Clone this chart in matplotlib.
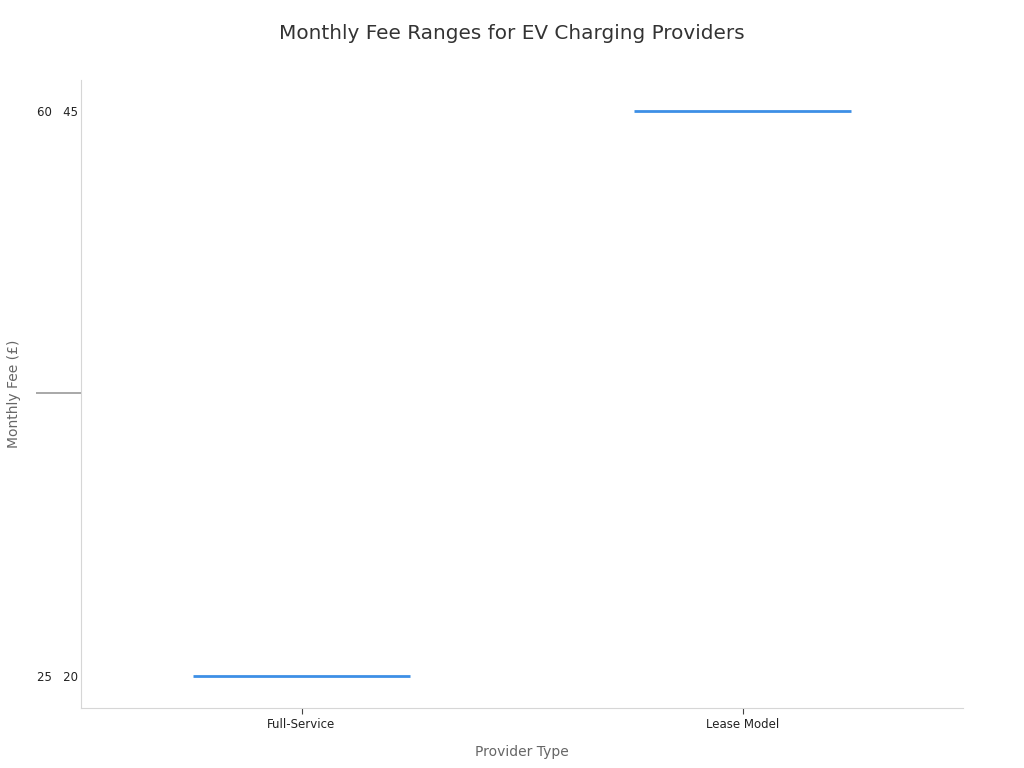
import matplotlib
matplotlib.use("Agg")
import matplotlib.pyplot as plt

# provider types and their monthly fee ranges (GBP)
providers = ["Full-Service", "Lease Model"]
fee_low = [20, 45]
fee_high = [25, 60]

plt.rcParams['font.family'] = ['DejaVu Sans']

fig = plt.figure(figsize=(10.24, 7.68), dpi=100)
ax = fig.add_axes([81 / 1024, 60 / 768, 882 / 1024, 628 / 768])

# each range ends up on its own categorical level
levels = list(range(len(providers)))
for i, name in enumerate(providers):
    ax.hlines(levels[i], i - 0.245, i + 0.245, color="#3d8fe6", linewidth=2)

ax.set_xlim(-0.5, len(providers) - 0.5)
ax.set_ylim(-0.057, 1.055)

ax.set_xticks(range(len(providers)))
ax.set_xticklabels(providers, fontsize=8.5, color="#222222")

ylabels = ["%d   %d" % (h, l) for h, l in zip(fee_high, fee_low)]
ax.set_yticks(levels)
ax.set_yticklabels(ylabels, fontsize=8.5, color="#222222")
ax.tick_params(axis="y", length=0, pad=2)
ax.tick_params(axis="x", length=4, color="#444444")

# the odd long grey tick halfway up the axis
ax.set_yticks([0.5], minor=True)
ax.tick_params(axis="y", which="minor", length=32.5, width=1.2, color="#999999")

for s in ["top", "right"]:
    ax.spines[s].set_visible(False)
for s in ["left", "bottom"]:
    ax.spines[s].set_color("#d6d6d6")

ax.set_xlabel("Provider Type", fontsize=10, color="#666666", labelpad=10)
ax.set_ylabel("Monthly Fee (£)", fontsize=10, color="#666666", labelpad=7)
fig.text(0.5, 1 - 33.5 / 768, "Monthly Fee Ranges for EV Charging Providers",
         ha="center", va="center", fontsize=14.4, color="#333333")

fig.savefig("out.png", dpi=100)
